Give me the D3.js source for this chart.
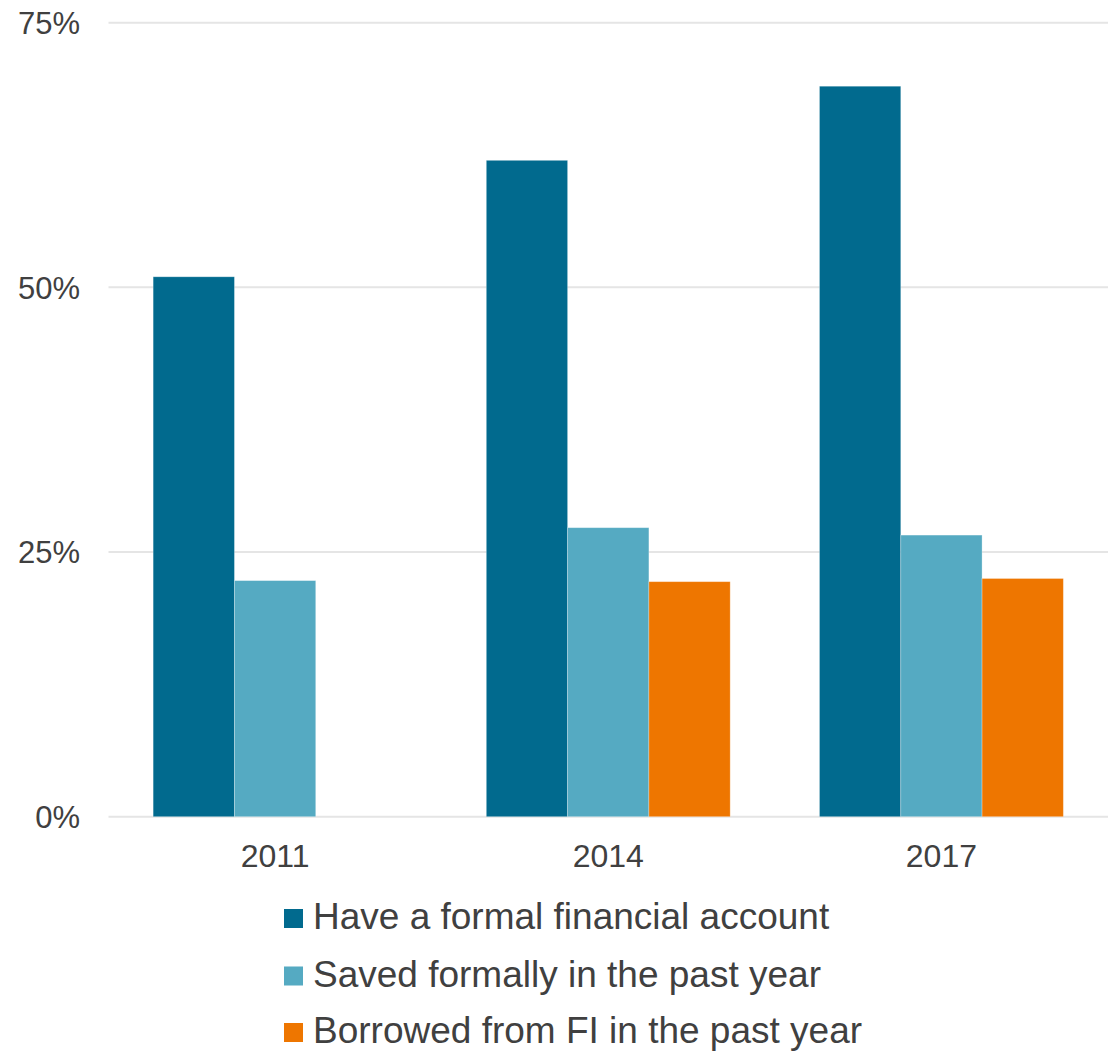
<!DOCTYPE html>
<html>
<head>
<meta charset="utf-8">
<script src="https://cdn.jsdelivr.net/npm/d3@7"></script>
<style>
  html, body { margin: 0; padding: 0; background: #fff; }
  svg { display: block; font-family: "Liberation Sans", Arial, sans-serif; }
</style>
</head>
<body>
<svg id="chart" width="1119" height="1051"></svg>
<script>
const categories = ["2011", "2014", "2017"];
const seriesNames = ["Have a formal financial account", "Saved formally in the past year", "Borrowed from FI in the past year"];
const accountValues = [51.0, 62.0, 69.0];
const savedValues = [22.3, 27.3, 26.6];
const borrowedValues = [null, 22.2, 22.5];
const seriesColors = ["#016A8E", "#55AAC2", "#EE7600"];
const yTicks = [0, 25, 50, 75];
const yTickLabels = ["0%", "25%", "50%", "75%"];

const seriesValues = [accountValues, savedValues, borrowedValues];

(function () {
const svg = d3.select("#chart");
const plotLeft = 108.5, plotRight = 1108, plotTop = 22.7, plotBottom = 816.7;
const textColor = "#404040";

const x = d3.scaleBand().domain(categories).range([plotLeft, plotRight]).paddingInner(0.268).paddingOuter(0.134);
const xs = d3.scaleBand().domain(d3.range(seriesNames.length)).range([0, x.bandwidth()]).padding(0);
const y = d3.scaleLinear().domain([0, 75]).range([plotBottom, plotTop]);

// Gridlines
svg.append("g")
  .selectAll("line")
  .data(yTicks)
  .join("line")
  .attr("x1", plotLeft).attr("x2", plotRight)
  .attr("y1", d => y(d)).attr("y2", d => y(d))
  .attr("stroke", "#e5e5e5")
  .attr("stroke-width", 2);

// Y axis labels
const yAxis = d3.axisLeft(y).tickValues(yTicks).tickFormat((d, i) => yTickLabels[i]).tickSize(0).tickPadding(0);
const yg = svg.append("g").attr("transform", `translate(80,0)`).call(yAxis);
yg.select(".domain").remove();
yg.selectAll("text").attr("font-size", 31).attr("fill", textColor).attr("font-family", "Liberation Sans, Arial, sans-serif").attr("dy", "0.35em");

// Bars
const barData = [];
categories.forEach((c, ci) => {
  seriesValues.forEach((vals, si) => {
    if (vals[ci] != null) barData.push({ cat: c, s: si, v: vals[ci] });
  });
});
svg.append("g")
  .selectAll("rect")
  .data(barData)
  .join("rect")
  .attr("x", d => x(d.cat) + xs(d.s))
  .attr("width", xs.bandwidth())
  .attr("y", d => y(d.v))
  .attr("height", d => y(0) - y(d.v))
  .attr("fill", d => seriesColors[d.s])
  .attr("stroke", "rgba(255,255,255,0.35)")
  .attr("stroke-width", 0.8);

// X axis labels
const xAxis = d3.axisBottom(x).tickSize(0).tickPadding(0);
const xg = svg.append("g").attr("transform", `translate(0,${plotBottom})`).call(xAxis);
xg.select(".domain").remove();
xg.selectAll("text").attr("font-size", 32).attr("fill", textColor).attr("font-family", "Liberation Sans, Arial, sans-serif").attr("dy", null).attr("y", 50);

// Legend
const legend = svg.append("g").attr("transform", "translate(284,0)");
const rowCenters = [918.5, 976, 1032.5];
const lg = legend.selectAll("g").data(seriesNames).join("g")
  .attr("transform", (d, i) => `translate(0,${rowCenters[i]})`);
lg.append("rect").attr("x", 0).attr("y", -9.5).attr("width", 19).attr("height", 19).attr("fill", (d, i) => seriesColors[i]);
lg.append("text").attr("x", 29).attr("y", 10.5).attr("font-size", 37).attr("fill", textColor).text(d => d);
})();
</script>
</body>
</html>
